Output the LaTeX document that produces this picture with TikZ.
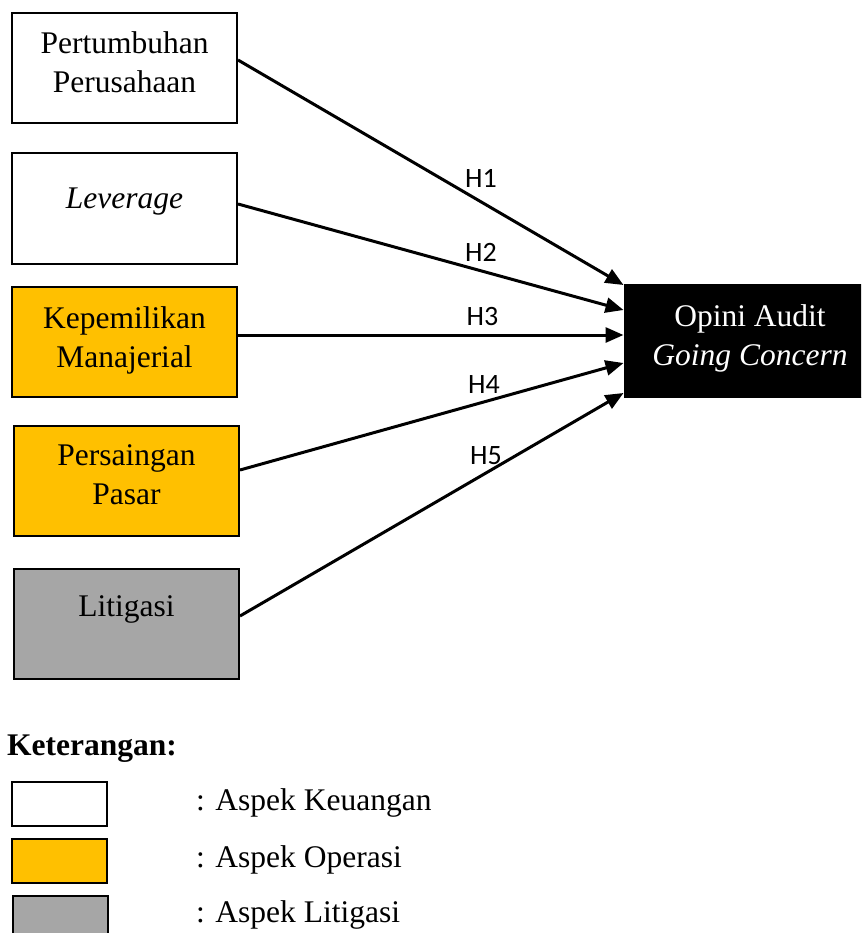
\documentclass[tikz,border=0pt]{standalone}
\usepackage{fontspec}
\setmainfont{Liberation Serif}
\newfontfamily\hfont{Carlito}
\usepackage{tikz}
\usetikzlibrary{arrows.meta}
\usetikzlibrary{positioning}
\definecolor{gold1}{RGB}{255,192,0}
\definecolor{grey1}{RGB}{166,166,166}
\tikzset{
  varbox/.style={draw=black,line width=2pt,minimum width=225pt,minimum height=110pt,inner sep=0pt},
  legbox/.style={draw=black,line width=2pt,minimum width=95pt,minimum height=44pt,inner sep=0pt},
  vartext/.style={inner sep=0pt,align=center,font=\fontsize{31.5}{39}\selectfont},
  hyp/.style={line width=3pt,-{Triangle[length=18pt,width=15pt]}},
  hlabel/.style={inner sep=0pt,font=\hfont\fontsize{28}{32}\selectfont},
}

\begin{document}
\begin{tikzpicture}[x=1pt,y=-1pt]
      \useasboundingbox (0,0) rectangle (861,933);
      \clip (0,0) rectangle (861,933);

      % variabel independen
      \node [varbox] (pert) at (124.5,68) {};
      \node [varbox] (lev) at (124.5,208.5) {};
      \node [varbox,fill=gold1] (kep) at (124.5,342) {};
      \node [varbox,fill=gold1] (pers) at (126.5,481) {};
      \node [varbox,fill=grey1] (lit) at (126.5,623.5) {};
      \node [vartext] (pertT) at (124.5,62.5) {Pertumbuhan\\Perusahaan};
      \node [vartext,anchor=base] (levT) at (124.5,208) {\itshape Leverage};
      \node [vartext] (kepT) at (124.5,340) {Kepemilikan\\Manajerial};
      \node [vartext] (persT) at (126.5,474.5) {Persaingan\\Pasar};
      \node [vartext,anchor=base] (litT) at (126.5,616) {Litigasi};

      % variabel dependen
      \node [draw=black,fill=black,line width=1pt,minimum width=238pt,minimum height=113pt,inner sep=0pt] (opini) at (743,341) {};
      \node [vartext,text=white] (opiniT) at (750,338) {Opini Audit\\\itshape Going Concern};

      % hipotesis
      \draw [hyp] ([yshift=8pt]pert.east) -- ([yshift=56pt]opini.west);
      \draw [hyp] ([yshift=4.5pt]lev.east) -- ([yshift=31pt]opini.west);
      \draw [hyp] ([yshift=7pt]kep.east) -- ([yshift=6pt]opini.west);
      \draw [hyp] ([yshift=11pt]pers.east) -- ([yshift=-22pt]opini.west);
      \draw [hyp] ([yshift=7.5pt]lit.east) -- ([yshift=-52pt]opini.west);
      \node [hlabel] (h1) at (481,178.5) {H1};
      \node [hlabel] (h2) at (481,252.5) {H2};
      \node [hlabel] (h3) at (482.5,316.5) {H3};
      \node [hlabel] (h4) at (484,384.5) {H4};
      \node [hlabel] (h5) at (486,456) {H5};

      % keterangan
      \node [vartext,anchor=base west,font=\fontsize{31.5}{39}\selectfont\bfseries] (ket) at (7,755) {Keterangan:};
      \node [legbox] (legA) at (59.5,804) {};
      \node [legbox,fill=gold1] (legB) at (59.5,860.5) {};
      \node [legbox,fill=grey1] (legC) at (60.5,917.5) {};
      \node [vartext,anchor=base west] (legAT) at (196,810) {: Aspek Keuangan};
      \node [vartext,anchor=base west] (legBT) at (196,867) {: Aspek Operasi};
      \node [vartext,anchor=base west] (legCT) at (196,922) {: Aspek Litigasi};
    \end{tikzpicture}
\end{document}
